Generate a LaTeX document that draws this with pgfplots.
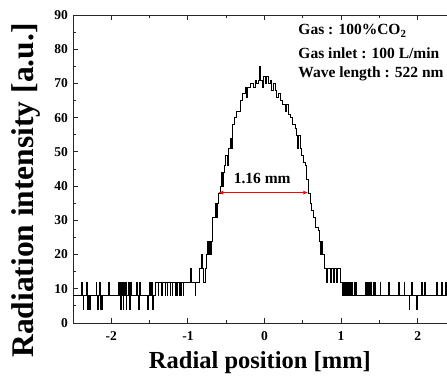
\documentclass[border=0pt]{standalone}
\usepackage{fontspec}
\setmainfont{Liberation Serif}
\usepackage{pgfplots}
\pgfplotsset{compat=1.18}
\usetikzlibrary{arrows.meta}
\begin{document}
\begin{tikzpicture}
\begin{axis}[
  at={(0,0)}, anchor=south west,
  scale only axis, width=383bp, height=308bp,
  xmin=-2.5, xmax=2.5, ymin=0, ymax=90,
  xtick={-2,-1,0,1,2}, ytick={0,10,...,90},
  minor x tick num=1, minor y tick num=1,
  tick align=inside, major tick length=5bp, minor tick length=3bp,
  axis line style={line width=0.9bp, black!85},
  every tick/.style={line width=0.8bp, black!85},
  /pgf/number format/assume math mode=true,
  ticklabel style={font=\fontsize{13.5bp}{16bp}\selectfont\bfseries},
  xticklabel style={yshift=-5.5bp},
  yticklabel style={xshift=-1.5bp},
  xlabel={Radial position [mm]},
  ylabel={Radiation intensity [a.u.]},
  xlabel style={font=\fontsize{24.5bp}{28bp}\selectfont\bfseries, at={(axis description cs:0.488,-0.147)}, anchor=base},
  ylabel style={font=\fontsize{31.5bp}{34bp}\selectfont\bfseries, at={(axis description cs:-0.1044,0.43)}, anchor=base},
  clip=false,
]
\addplot[const plot, black, line width=0.55bp] coordinates {
(-2.50,8)(-2.39,12)(-2.38,8)(-2.37,4)(-2.36,8)(-2.33,12)(-2.32,8)(-2.31,4)(-2.30,8)(-2.29,4)(-2.28,8)
(-2.20,12)(-2.19,8)(-2.18,4)(-2.17,8)(-2.16,12)(-2.15,4)(-2.14,8)(-2.13,4)(-2.12,8)
(-2.04,12)(-2.03,8)(-1.91,12)(-1.90,8)(-1.89,12)(-1.88,4)(-1.87,12)(-1.86,8)(-1.85,4)(-1.84,12)(-1.83,8)
(-1.82,12)(-1.81,4)(-1.80,8)(-1.78,12)(-1.77,8)(-1.76,4)(-1.75,12)(-1.74,8)
(-1.67,12)(-1.66,8)(-1.65,4)(-1.64,8)(-1.63,12)(-1.62,8)
(-1.53,4)(-1.52,8)(-1.505,12)(-1.495,8)(-1.475,12)(-1.465,4)(-1.455,8)
(-1.43,12)(-1.39,8)(-1.385,12)(-1.345,8)(-1.34,12)(-1.30,8)(-1.295,12)(-1.27,8)(-1.265,12)
(-1.235,8)(-1.23,12)(-1.205,8)(-1.20,12)(-1.17,8)(-1.165,12)(-1.15,8)(-1.145,12)(-1.115,8)(-1.11,12)
(-1.095,8)(-1.09,12)(-1.065,8)(-1.055,12)(-0.965,16)(-0.955,12)(-0.91,8)(-0.905,12)
(-0.85,16)(-0.825,20)(-0.815,16)(-0.795,12)(-0.775,16)(-0.765,20)
(-0.755,20)(-0.742,24)(-0.729,20)(-0.716,24)(-0.703,20)(-0.69,24)(-0.677,31)(-0.646,35)(-0.633,31)
(-0.62,35)(-0.607,38)(-0.581,40)(-0.568,44)(-0.555,40)(-0.542,44)(-0.529,46)(-0.507,49)(-0.485,46)
(-0.472,51)(-0.45,54)(-0.428,51)(-0.415,58)(-0.394,60)(-0.364,62)(-0.32,65)(-0.285,67)(-0.255,69)
(-0.233,66)(-0.22,69)(-0.19,70)(-0.146,69)(-0.124,71)(-0.103,70)(-0.081,71)(-0.063,75)(-0.05,71)
(-0.033,69)(-0.015,72)(0.007,70)(0.028,72)(0.05,70)(0.072,71)(0.094,68)(0.115,70)(0.137,68)
(0.159,66)(0.18,67)(0.2,65)(0.237,64)(0.268,62)(0.289,64)(0.311,61)(0.341,60)(0.368,58)(0.398,57)
(0.42,55)(0.433,51)(0.446,55)(0.463,51)(0.485,49)(0.507,47)(0.529,46)(0.55,42)(0.572,38)(0.594,35)
(0.616,33)(0.637,31)(0.659,28)(0.703,27)(0.716,24)(0.733,20)(0.746,24)(0.76,20)(0.781,16)
(0.812,12)(0.825,16)(0.855,12)(0.868,16)(0.899,12)(0.912,16)(0.942,12)(0.955,16)(0.994,12)
(1.02,8)(1.03,12)(1.04,8)(1.05,12)(1.06,8)(1.07,12)(1.085,8)(1.10,12)(1.11,8)(1.12,12)(1.13,8)
(1.14,12)(1.15,8)(1.17,12)(1.18,8)(1.19,12)(1.20,8)(1.31,12)(1.32,8)(1.33,12)(1.34,8)(1.35,12)
(1.355,8)(1.37,12)(1.38,8)(1.39,12)(1.40,8)(1.42,12)(1.43,8)(1.44,12)(1.445,8)(1.505,12)(1.515,8)
(1.615,12)(1.625,8)(1.745,12)(1.755,8)(1.82,12)(1.83,8)(1.885,4)(1.895,8)(1.915,12)(1.925,8)
(1.985,4)(1.995,8)(2.05,12)(2.06,8)(2.09,12)(2.10,8)(2.245,12)(2.255,8)(2.31,12)(2.32,8)
(2.36,12)(2.37,8)(2.50,8)
};
\draw[red, line width=0.9bp, {Latex[length=5bp,width=4bp]}-{Latex[length=5bp,width=4bp]}] (axis cs:-0.603,38.1) -- (axis cs:0.572,38.1);
\node[anchor=base, font=\fontsize{15.5bp}{18bp}\selectfont\bfseries] at (axis cs:-0.03,40.8) {1.16 mm};
\node[anchor=base west, inner sep=0pt, font=\fontsize{15.5bp}{18bp}\selectfont\bfseries] at (axis cs:0.441,84.2) {Gas : 100\%CO\textsubscript{2}};
\node[anchor=base west, inner sep=0pt, font=\fontsize{15.5bp}{18bp}\selectfont\bfseries] at (axis cs:0.441,77.35) {Gas inlet : 100 L/min};
\node[anchor=base west, inner sep=0pt, font=\fontsize{15.5bp}{18bp}\selectfont\bfseries] at (axis cs:0.441,71.6) {Wave length : 522 nm};
\end{axis}
\pgfresetboundingbox
\path (-73bp,-56bp) rectangle (374bp,323bp);
\end{tikzpicture}
\end{document}
